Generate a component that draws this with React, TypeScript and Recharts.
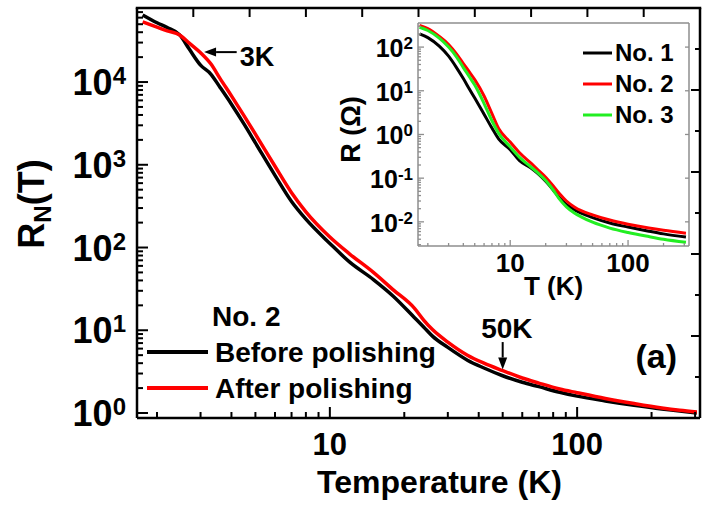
import React from 'react';
import {
  LineChart,
  Line,
  XAxis,
  YAxis,
  Legend,
  ReferenceLine,
  ReferenceDot,
  Label,
} from 'recharts';

const FONT = '"Liberation Sans", Arial, Helvetica, sans-serif';

// ---------- main panel: sample No. 2, normalised resistance ----------
const mainTemps = [
  1.75, 2.0, 2.2, 2.47, 2.7, 3.0, 3.3, 3.6, 4.0, 4.5, 5.0, 6.0, 7.0, 8.0, 10, 12, 15, 18, 22,
  24, 26, 30, 36, 42, 50, 60, 70, 85, 100, 130, 170, 220, 260, 305,
];
const beforePolishing = [
  64600, 52000, 45500, 37100, 25000, 16000, 12500, 8600, 5400, 3100, 1840, 745, 360, 220, 112,
  67, 41, 26, 14.2, 10.9, 8.5, 6.2, 4.35, 3.5, 2.82, 2.35, 2.08, 1.78, 1.6, 1.4, 1.24, 1.12, 1.06,
  1.0,
];
const afterPolishing = [
  53200, 46000, 41500, 37100, 29600, 22600, 16600, 11000, 6800, 3900, 2350, 960, 460, 270, 134,
  84, 50, 31, 18.4, 13.2, 10.2, 7.2, 5.0, 4.0, 3.25, 2.65, 2.3, 1.95, 1.76, 1.5, 1.3, 1.15, 1.08,
  1.03,
];
const mainSeriesNames = ['Before polishing', 'After polishing'];
const mainSeriesColors = ['#000000', '#ff0000'];

const mainXDomain = [1.66, 314];
const mainYDomain = [0.87, 78500];
const mainXTicks = [2, 3, 4, 5, 6, 7, 8, 9, 10, 20, 30, 40, 50, 60, 70, 80, 90, 100, 200, 300];
const mainYDecades = [1, 10, 100, 1000, 10000];
const mantissas = [1, 2, 3, 4, 5, 6, 7, 8, 9];
const mainYTicks = mainYDecades
  .flatMap((d) => mantissas.map((m) => m * d))
  .filter((v) => v >= mainYDomain[0] && v <= mainYDomain[1]);

const MAIN_MARGIN = { top: 8, right: 2, left: 0, bottom: 0 };
// top and right frame edges carry ten evenly spaced marks
const frameDivisions = 10;

// ---------- inset: three samples, absolute resistance ----------
const insetTemps = [
  1.7, 2.0, 2.5, 3.0, 3.5, 4.0, 4.5, 5.0, 6.0, 7.0, 8.0, 10, 12, 15, 17, 20, 23, 26, 30, 35, 40,
  50, 70, 100, 150, 200, 310,
];
const sampleNo1 = [
  200, 165, 105, 62, 34, 19, 11, 6.8, 2.9, 1.4, 0.78, 0.45, 0.25, 0.17, 0.13, 0.085, 0.055, 0.036,
  0.025, 0.019, 0.0158, 0.0125, 0.0094, 0.0076, 0.0061, 0.0053, 0.0045,
];
const sampleNo2 = [
  315, 265, 175, 115, 70, 42, 27, 18, 7.6, 3.0, 1.35, 0.67, 0.38, 0.22, 0.16, 0.105, 0.068, 0.045,
  0.03, 0.022, 0.018, 0.0145, 0.011, 0.0088, 0.0072, 0.0064, 0.0055,
];
const sampleNo3 = [
  285, 240, 160, 100, 60, 34, 21, 13.5, 5.1, 2.06, 1.05, 0.52, 0.3, 0.18, 0.135, 0.088, 0.055,
  0.034, 0.022, 0.016, 0.013, 0.0098, 0.0072, 0.0057, 0.0046, 0.004, 0.0034,
];
const insetSeriesNames = ['No. 1', 'No. 2', 'No. 3'];
const insetSeriesColors = ['#000000', '#ff0000', '#22ee22'];

const insetXDomain = [1.65, 329];
const insetYDomain = [0.0028, 356];
const insetXTicks = [2, 3, 4, 5, 6, 7, 8, 9, 10, 20, 30, 40, 50, 60, 70, 80, 90, 100, 200, 300];
const insetYDecades = [0.001, 0.01, 0.1, 1, 10, 100];
const insetYTicks = insetYDecades
  .flatMap((d) => mantissas.map((m) => m * d))
  .filter((v) => v >= insetYDomain[0] && v <= insetYDomain[1]);
const insetFrameYTicks = [0.01, 0.1, 1, 10, 100];

const mainData = mainTemps.map((t, i) => ({
  t,
  before: beforePolishing[i],
  after: afterPolishing[i],
}));
const insetData = insetTemps.map((t, i) => ({
  t,
  s1: sampleNo1[i],
  s2: sampleNo2[i],
  s3: sampleNo3[i],
}));

const isDecade = (v: number) => Math.abs(Math.log10(v) - Math.round(Math.log10(v))) < 1e-9;
const exponentOf = (v: number) => Math.round(Math.log10(v));

// ---------- tick renderers (axes use tickSize 0, so x/y sit on the axis line) ----------
const MainXTick = (props: any) => {
  const { x, y, payload } = props;
  const v = payload.value;
  const major = isDecade(v);
  return (
    <g>
      <line x1={x} x2={x} y1={y} y2={y - (major ? 11 : 6)} stroke="#000" strokeWidth={2} />
      {major && (
        <text x={x} y={y + 37} textAnchor="middle" fontFamily={FONT} fontWeight="bold" fontSize={31} fill="#000">
          {v}
        </text>
      )}
    </g>
  );
};

const MainYTick = (props: any) => {
  const { x, y, payload } = props;
  const v = payload.value;
  const major = isDecade(v);
  return (
    <g>
      <line x1={x} x2={x + (major ? 11 : 6)} y1={y} y2={y} stroke="#000" strokeWidth={2} />
      {major && (
        <text x={x - 11} y={y + 13} textAnchor="end" fontFamily={FONT} fontWeight="bold" fontSize={36} fill="#000">
          <tspan>10</tspan>
          <tspan dy={-11} fontSize={24}>
            {exponentOf(v)}
          </tspan>
        </text>
      )}
    </g>
  );
};

// bottom-axis title plus the top and right frame edges of the plot box
const MainXLabel = (p: any) => {
  const vb = p.viewBox;
  const left = vb.x;
  const right = vb.x + vb.width;
  const bottom = vb.y;
  const top = MAIN_MARGIN.top;
  const topMarks = [];
  const rightMarks = [];
  for (let k = 1; k < frameDivisions; k++) {
    const x = left + ((right - left) * k) / frameDivisions;
    topMarks.push(<line key={`t${k}`} x1={x} x2={x} y1={top} y2={top + 9} stroke="#000" strokeWidth={2} />);
    const y = bottom - ((bottom - top) * k) / frameDivisions;
    rightMarks.push(
      <line key={`r${k}`} x1={right} x2={right - (k % 2 === 0 ? 9 : 5)} y1={y} y2={y} stroke="#000" strokeWidth={2} />,
    );
  }
  return (
    <g>
      <line x1={left - 1.25} x2={right + 1.25} y1={top} y2={top} stroke="#000" strokeWidth={2.5} />
      <line x1={right} x2={right} y1={top} y2={bottom} stroke="#000" strokeWidth={2.5} />
      {topMarks}
      {rightMarks}
      <text
        x={left + vb.width / 2 + 21}
        y={bottom + 75}
        textAnchor="middle"
        fontFamily={FONT}
        fontWeight="bold"
        fontSize={32}
        fill="#000"
      >
        Temperature (K)
      </text>
    </g>
  );
};

const GRAY = '#8e8e8e';

const InsetXTick = (props: any) => {
  const { x, y, payload } = props;
  const v = payload.value;
  const major = isDecade(v);
  return (
    <g>
      <line x1={x} x2={x} y1={y} y2={y - (major ? 6 : 3)} stroke={GRAY} strokeWidth={1.3} />
      {major && (
        <text x={x} y={y + 26} textAnchor="middle" fontFamily={FONT} fontWeight="bold" fontSize={26} fill="#000">
          {v}
        </text>
      )}
    </g>
  );
};

const InsetYTick = (props: any) => {
  const { x, y, payload } = props;
  const v = payload.value;
  const major = isDecade(v);
  return (
    <g>
      <line x1={x} x2={x + (major ? 6 : 3)} y1={y} y2={y} stroke={GRAY} strokeWidth={1.3} />
      {major && (
        <text x={x - 5} y={y + 10} textAnchor="end" fontFamily={FONT} fontWeight="bold" fontSize={25} fill="#000">
          <tspan>10</tspan>
          <tspan dy={-8} fontSize={17}>
            {exponentOf(v)}
          </tspan>
        </text>
      )}
    </g>
  );
};

const InsetRightTick = (props: any) => {
  const { x, y } = props;
  return <line x1={x} x2={x - 4} y1={y} y2={y} stroke={GRAY} strokeWidth={1.3} />;
};

// ---------- annotations ----------
const Arrow = (props: any) => {
  const { x1, y1, x2, y2 } = props;
  const dx = x2 - x1;
  const dy = y2 - y1;
  const len = Math.hypot(dx, dy) || 1;
  const ux = dx / len;
  const uy = dy / len;
  const head = 12;
  const half = 4.5;
  const bx = x2 - ux * head;
  const by = y2 - uy * head;
  return (
    <g>
      <line x1={x1} y1={y1} x2={bx} y2={by} stroke="#000" strokeWidth={2} />
      <polygon
        points={`${x2},${y2} ${bx - uy * half},${by + ux * half} ${bx + uy * half},${by - ux * half}`}
        fill="#000"
      />
    </g>
  );
};

const textShape = (text: string, size: number, anchor: 'start' | 'middle' | 'end') => (p: any) => (
  <text x={p.cx} y={p.cy} textAnchor={anchor} fontFamily={FONT} fontWeight="bold" fontSize={size} fill="#000">
    {text}
  </text>
);

// ---------- legends ----------
const MainLegend = (props: any) => {
  const payload: any[] = props.payload || [];
  const items = mainSeriesNames.map((name, i) => {
    const hit = payload.find((p) => p.value === name);
    return { name, color: hit ? hit.color : mainSeriesColors[i] };
  });
  return (
    <svg width={310} height={110} style={{ display: 'block' }}>
      <text x={72} y={26} fontFamily={FONT} fontWeight="bold" fontSize={28} fill="#000">
        No. 2
      </text>
      {items.map((it, i) => (
        <g key={it.name}>
          <line x1={7} x2={68} y1={52 + 36 * i} y2={52 + 36 * i} stroke={it.color} strokeWidth={4} />
          <text x={75} y={62 + 36 * i} fontFamily={FONT} fontWeight="bold" fontSize={28} fill="#000">
            {it.name}
          </text>
        </g>
      ))}
    </svg>
  );
};

const InsetLegend = (props: any) => {
  const payload: any[] = props.payload || [];
  const items = insetSeriesNames.map((name, i) => {
    const hit = payload.find((p) => p.value === name);
    return { name, color: hit ? hit.color : insetSeriesColors[i] };
  });
  return (
    <svg width={110} height={100} style={{ display: 'block' }}>
      {items.map((it, i) => (
        <g key={it.name}>
          <line x1={3} x2={32} y1={18 + 31 * i} y2={18 + 31 * i} stroke={it.color} strokeWidth={3} />
          <text x={35} y={26 + 31 * i} fontFamily={FONT} fontWeight="bold" fontSize={24} fill="#000">
            {it.name}
          </text>
        </g>
      ))}
    </svg>
  );
};

export default function App() {
  return (
    <div style={{ position: 'absolute', left: 0, top: 0, width: 702, height: 515, background: '#fff' }}>
      <LineChart width={702} height={515} data={mainData} margin={MAIN_MARGIN}>
        <XAxis
          xAxisId="temp"
          dataKey="t"
          type="number"
          scale="log"
          domain={mainXDomain}
          allowDataOverflow
          ticks={mainXTicks}
          interval={0}
          height={97}
          tickSize={0}
          tickMargin={0}
          tickLine={false}
          tick={<MainXTick />}
          axisLine={{ stroke: '#000', strokeWidth: 2.5 }}
        >
          <Label content={MainXLabel} />
        </XAxis>
        <YAxis
          yAxisId="res"
          type="number"
          scale="log"
          domain={mainYDomain}
          allowDataOverflow
          ticks={mainYTicks}
          interval={0}
          width={137}
          tickSize={0}
          tickMargin={0}
          tickLine={false}
          tick={<MainYTick />}
          axisLine={{ stroke: '#000', strokeWidth: 2.5 }}
        >
          <Label
            content={(p: any) => {
              const vb = p.viewBox;
              const cx = vb.x + 44;
              const cy = vb.y + vb.height / 2 - 9;
              return (
                <text
                  x={cx}
                  y={cy}
                  transform={`rotate(-90, ${cx}, ${cy})`}
                  textAnchor="middle"
                  fontFamily={FONT}
                  fontWeight="bold"
                  fontSize={36}
                  fill="#000"
                >
                  <tspan>R</tspan>
                  <tspan dy={7} fontSize={24}>
                    N
                  </tspan>
                  <tspan dy={-7}>(T)</tspan>
                </text>
              );
            }}
          />
        </YAxis>
        <Line
          xAxisId="temp"
          yAxisId="res"
          dataKey="before"
          name={mainSeriesNames[0]}
          stroke={mainSeriesColors[0]}
          strokeWidth={3.5}
          type="monotone"
          dot={false}
          isAnimationActive={false}
        />
        <Line
          xAxisId="temp"
          yAxisId="res"
          dataKey="after"
          name={mainSeriesNames[1]}
          stroke={mainSeriesColors[1]}
          strokeWidth={3.5}
          type="monotone"
          dot={false}
          isAnimationActive={false}
        />
        <ReferenceLine
          xAxisId="temp"
          yAxisId="res"
          segment={[
            { x: 4.2, y: 23000 },
            { x: 3.1, y: 23000 },
          ]}
          shape={Arrow}
        />
        <ReferenceDot xAxisId="temp" yAxisId="res" x={4.32} y={15600} r={0} shape={textShape('3K', 27, 'start')} />
        <ReferenceLine
          xAxisId="temp"
          yAxisId="res"
          segment={[
            { x: 50, y: 7.2 },
            { x: 50, y: 3.35 },
          ]}
          shape={Arrow}
        />
        <ReferenceDot xAxisId="temp" yAxisId="res" x={52} y={8.0} r={0} shape={textShape('50K', 28, 'middle')} />
        <ReferenceDot xAxisId="temp" yAxisId="res" x={209} y={3.48} r={0} shape={textShape('(a)', 34, 'middle')} />
        <Legend
          layout="vertical"
          align="center"
          verticalAlign="middle"
          content={<MainLegend />}
          wrapperStyle={{ position: 'absolute', left: 140, top: 300, width: 310, height: 110 }}
        />
      </LineChart>

      <div style={{ position: 'absolute', left: 300, top: 0, width: 395, height: 300 }}>
        <LineChart width={395} height={300} data={insetData} margin={{ top: 23, right: 6, left: 0, bottom: 0 }}>
          <XAxis
            xAxisId="t"
            dataKey="t"
            type="number"
            scale="log"
            domain={insetXDomain}
            allowDataOverflow
            ticks={insetXTicks}
            interval={0}
            height={54}
            tickSize={0}
            tickMargin={0}
            tickLine={false}
            tick={<InsetXTick />}
            axisLine={{ stroke: GRAY, strokeWidth: 1.5 }}
          >
            <Label
              content={(p: any) => {
                const vb = p.viewBox;
                return (
                  <text
                    x={vb.x + vb.width / 2}
                    y={vb.y + 49}
                    textAnchor="middle"
                    fontFamily={FONT}
                    fontWeight="bold"
                    fontSize={26}
                    fill="#000"
                  >
                    T (K)
                  </text>
                );
              }}
            />
          </XAxis>
          <XAxis
            xAxisId="tTop"
            orientation="top"
            type="number"
            domain={[0, 1]}
            height={1}
            mirror
            tick={false}
            tickLine={false}
            axisLine={{ stroke: GRAY, strokeWidth: 1.5 }}
          />
          <YAxis
            yAxisId="r"
            type="number"
            scale="log"
            domain={insetYDomain}
            allowDataOverflow
            ticks={insetYTicks}
            interval={0}
            width={118}
            tickSize={0}
            tickMargin={0}
            tickLine={false}
            tick={<InsetYTick />}
            axisLine={{ stroke: GRAY, strokeWidth: 1.5 }}
          >
            <Label
              content={(p: any) => {
                const vb = p.viewBox;
                const cx = vb.x + vb.width - 58;
                const cy = vb.y + vb.height / 2 - 5;
                return (
                  <text
                    x={cx}
                    y={cy}
                    transform={`rotate(-90, ${cx}, ${cy})`}
                    textAnchor="middle"
                    fontFamily={FONT}
                    fontWeight="bold"
                    fontSize={27}
                    fill="#000"
                  >
                    R (Ω)
                  </text>
                );
              }}
            />
          </YAxis>
          <YAxis
            yAxisId="rRight"
            orientation="right"
            type="number"
            scale="log"
            domain={insetYDomain}
            allowDataOverflow
            ticks={insetFrameYTicks}
            interval={0}
            width={1}
            mirror
            tickSize={0}
            tickMargin={0}
            tickLine={false}
            tick={<InsetRightTick />}
            axisLine={{ stroke: GRAY, strokeWidth: 1.5 }}
          />
          <Line
            xAxisId="t"
            yAxisId="r"
            dataKey="s1"
            name={insetSeriesNames[0]}
            stroke={insetSeriesColors[0]}
            strokeWidth={3}
            type="monotone"
            dot={false}
            isAnimationActive={false}
          />
          <Line
            xAxisId="t"
            yAxisId="r"
            dataKey="s2"
            name={insetSeriesNames[1]}
            stroke={insetSeriesColors[1]}
            strokeWidth={3}
            type="monotone"
            dot={false}
            isAnimationActive={false}
          />
          <Line
            xAxisId="t"
            yAxisId="r"
            dataKey="s3"
            name={insetSeriesNames[2]}
            stroke={insetSeriesColors[2]}
            strokeWidth={3}
            type="monotone"
            dot={false}
            isAnimationActive={false}
          />
          <Legend
            layout="vertical"
            align="center"
            verticalAlign="middle"
            content={<InsetLegend />}
            wrapperStyle={{ position: 'absolute', left: 280, top: 35, width: 110, height: 100 }}
          />
        </LineChart>
      </div>
    </div>
  );
}
